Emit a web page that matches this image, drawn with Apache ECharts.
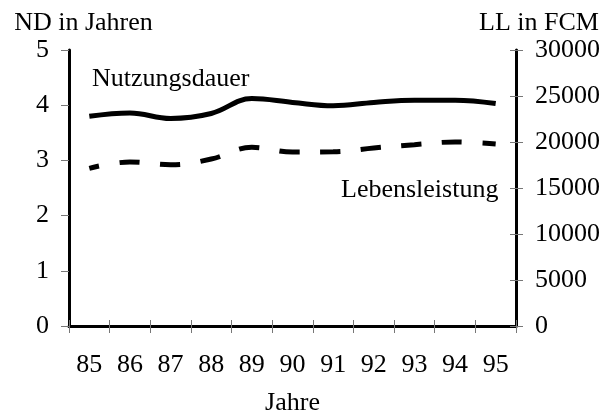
<!DOCTYPE html>
<html><head><meta charset="utf-8">
<script src="https://cdn.jsdelivr.net/npm/echarts@6/dist/echarts.min.js"></script>
<style>html,body{margin:0;padding:0;background:#fff}#c{width:615px;height:416px}</style>
</head><body><div id="c"></div>
<script>
const years = ['85','86','87','88','89','90','91','92','93','94','95'];
const nutzungsdauer = [3.80,3.86,3.76,3.85,4.12,4.05,3.99,4.05,4.09,4.09,4.03];
const lebensleistung = [17140,17830,17530,18150,19420,18910,18930,19350,19710,20000,19780];
const ndTicks = [0,1,2,3,4,5];
const llTicks = [0,5000,10000,15000,20000,25000,30000];

const FONT = '"Liberation Serif","Times New Roman",serif';
const FS = 26;
const tickColor = '#777';

const chart = echarts.init(document.getElementById('c'));
chart.setOption({
  animation: false,
  backgroundColor: '#fff',
  textStyle: {fontFamily: FONT, color: '#000'},
  grid: {left: 69, right: 99, top: 50, bottom: 90, containLabel: false, outerBoundsMode: 'none'},
  xAxis: [
    {type: 'category', data: years, boundaryGap: true, position: 'bottom',
     name: 'Jahre', nameLocation: 'middle', nameGap: 64,
     nameTextStyle: {fontFamily: FONT, fontSize: FS, color: '#000'},
     axisLine: {show: true, lineStyle: {color: '#000', width: 3}},
     axisTick: {show: true, inside: false, length: 7, lineStyle: {color: tickColor, width: 1}},
     axisLabel: {fontFamily: FONT, fontSize: FS, color: '#000', margin: 26},
     splitLine: {show: false}},
    {type: 'category', data: years, boundaryGap: true, position: 'bottom',
     axisLine: {show: false},
     axisTick: {show: true, inside: true, length: 6, lineStyle: {color: tickColor, width: 1}},
     axisLabel: {show: false}, splitLine: {show: false}},
    {type: 'category', data: years, boundaryGap: true, position: 'top',
     axisLine: {show: true, lineStyle: {color: '#000', width: 2}},
     axisTick: {show: false}, axisLabel: {show: false}, splitLine: {show: false}}
  ],
  yAxis: [
    {type: 'value', position: 'left', min: ndTicks[0], max: ndTicks[ndTicks.length-1], interval: ndTicks[1]-ndTicks[0],
     name: 'ND in Jahren', nameLocation: 'end', nameGap: 14,
     nameTextStyle: {fontFamily: FONT, fontSize: FS, color: '#000', align: 'center', padding: [0,0,0,29]},
     axisLine: {show: true, lineStyle: {color: '#000', width: 3}},
     axisTick: {show: true, inside: false, length: 8, lineStyle: {color: tickColor, width: 1}},
     axisLabel: {fontFamily: FONT, fontSize: FS, color: '#000', margin: 20},
     splitLine: {show: false}},
    {type: 'value', position: 'right', min: llTicks[0], max: llTicks[llTicks.length-1], interval: llTicks[1]-llTicks[0],
     name: 'LL in FCM', nameLocation: 'end', nameGap: 14,
     nameTextStyle: {fontFamily: FONT, fontSize: FS, color: '#000', align: 'center', padding: [0,0,0,46]},
     axisLine: {show: true, lineStyle: {color: '#000', width: 3}},
     axisTick: {show: true, inside: false, length: 7, lineStyle: {color: tickColor, width: 1}},
     axisLabel: {fontFamily: FONT, fontSize: FS, color: '#000', margin: 19, formatter: v => String(v)},
     splitLine: {show: false}},
    {type: 'value', position: 'right', min: llTicks[0], max: llTicks[llTicks.length-1], interval: llTicks[1]-llTicks[0],
     axisLine: {show: false},
     axisTick: {show: true, inside: true, length: 6, lineStyle: {color: tickColor, width: 1}},
     axisLabel: {show: false}, splitLine: {show: false}}
  ],
  series: [
    {name: 'Nutzungsdauer', type: 'line', xAxisIndex: 0, yAxisIndex: 0, data: nutzungsdauer,
     smooth: 0.4, symbol: 'none', lineStyle: {color: '#000', width: 5}},
    {name: 'Lebensleistung', type: 'line', xAxisIndex: 0, yAxisIndex: 1, data: lebensleistung,
     smooth: 0.4, symbol: 'none',
     lineStyle: {color: '#000', width: 5, type: [20, 20.7], dashOffset: 10}}
  ],
  graphic: [
    {type: 'text', left: 92, top: 66, style: {text: 'Nutzungsdauer', font: FS + 'px ' + FONT, fill: '#000'}},
    {type: 'text', left: 341, top: 177, style: {text: 'Lebensleistung', font: FS + 'px ' + FONT, fill: '#000'}}
  ]
});
</script>
</body></html>
